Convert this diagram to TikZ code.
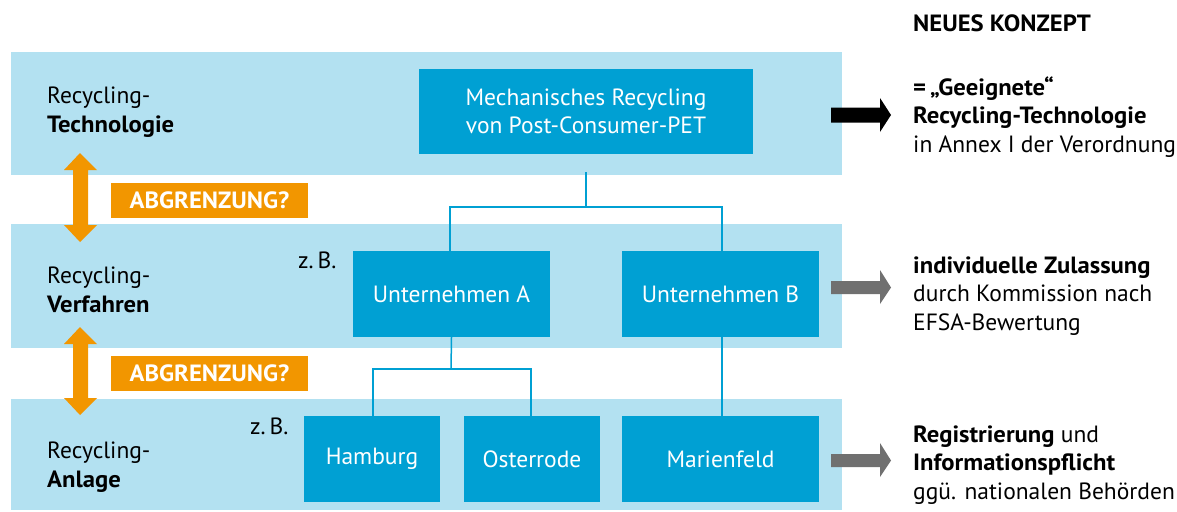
\documentclass[tikz,border=0pt]{standalone}
\usepackage{fontspec}
\setmainfont[BoldFeatures={FakeStretch=1.05}]{PT Sans}
\definecolor{bandblue}{RGB}{179,225,241}
\definecolor{boxblue}{RGB}{0,160,211}
\definecolor{orangeA}{RGB}{242,150,0}
\definecolor{grayarrow}{RGB}{112,112,112}
\tikzset{
  band/.style={fill=bandblue, draw=none},
  bluebox/.style={fill=boxblue, draw=none, text=white, inner sep=0pt, align=center, font=\fontsize{23.5}{28.5}\selectfont},
  orangebox/.style={fill=orangeA, draw=none, text=white, inner sep=0pt, font=\fontsize{23.5}{26}\selectfont\bfseries},
  lbl/.style={anchor=base west, inner sep=0pt, align=left, font=\fontsize{23.5}{28.5}\selectfont},
  conn/.style={draw=boxblue, line width=1.5pt},
}
\begin{document}
\begin{tikzpicture}[x=1pt,y=-1pt]
\useasboundingbox (0,0) rectangle (1177,511);
% bands
\fill[band] (11,52) rectangle (842,175);
\fill[band] (11,224) rectangle (842,348);
\fill[band] (11,399) rectangle (842,510);
% boxes
\node[bluebox, minimum width=334pt, minimum height=85pt] (mech) at (586,111.5) {Mechanisches Recycling\\von Post-Consumer-PET};
\node[bluebox, minimum width=197pt, minimum height=86pt] (ua) at (451.5,294) {Unternehmen A};
\node[bluebox, minimum width=197pt, minimum height=86pt] (ub) at (720.5,294) {Unternehmen B};
\node[bluebox, minimum width=136pt, minimum height=86pt] (ham) at (372,459) {Hamburg};
\node[bluebox, minimum width=136pt, minimum height=86pt] (ost) at (532,459) {Osterrode};
\node[bluebox, minimum width=197pt, minimum height=86pt] (mar) at (720.5,459) {Marienfeld};
% connectors
\coordinate (mtop) at (586,172);
\coordinate (j1) at (586,207);
\coordinate (j2) at (451,369);
\draw[conn] (mtop) -- (j1);
\draw[conn] (j1) -| (ua.north -| 450,0);
\draw[conn] (j1) -| (ub.north -| 722,0);
\draw[conn] (ua.south) -- (j2);
\draw[conn] (j2) -| (ham.north -| 373,0);
\draw[conn] (j2) -| (ost.north -| 531,0);
\draw[conn] (ub.south -| 722,0) -- (mar.north -| 722,0);
% left labels
\node[lbl] (l1) at (47,132) {Recycling-\\\textbf{Technologie}};
\node[lbl] (l2) at (47,312) {Recycling-\\\textbf{Verfahren}};
\node[lbl] (l3) at (47,487) {Recycling-\\\textbf{Anlage}};
\node[lbl] (zb1) at (298,268) {z.\,B.};
\node[lbl] (zb2) at (250,434) {z.\,B.};
% orange
\node[orangebox, minimum width=197pt, minimum height=35pt] (ab1) at (209.5,200.5) {ABGRENZUNG?};
\node[orangebox, minimum width=197pt, minimum height=35pt] (ab2) at (209.5,373.5) {ABGRENZUNG?};
\fill[orangeA] (80,153) -- (97,170) -- (88,170) -- (88,225) -- (97,225) -- (80,242) -- (64,225) -- (73,225) -- (73,170) -- (64,170) -- cycle;
\fill[orangeA] (80,327) -- (97,344) -- (88,344) -- (88,398) -- (97,398) -- (80,415) -- (64,398) -- (73,398) -- (73,344) -- (64,344) -- cycle;
% right arrows
\fill[black] (831,107.5) -- (880,107.5) -- (880,98) -- (891,115) -- (880,132) -- (880,122.5) -- (831,122.5) -- cycle;
\fill[grayarrow] (831,281) -- (880,281) -- (880,270) -- (891,287.5) -- (880,304) -- (880,294) -- (831,294) -- cycle;
\fill[grayarrow] (831,454) -- (880,454) -- (880,443) -- (891,460.5) -- (880,477) -- (880,467) -- (831,467) -- cycle;
% right texts
\node[lbl] (nk) at (913,32) {\textbf{NEUES KONZEPT}};
\node[lbl] (r1) at (913,152) {\textbf{=\,„Geeignete“}\\\textbf{Recycling-Technologie}\\in Annex I der Verordnung};
\node[lbl] (r2) at (913,330) {\textbf{individuelle Zulassung}\\durch Kommission nach\\EFSA-Bewertung};
\node[lbl] (r3) at (913,499) {\textbf{Registrierung} und\\\textbf{Informationspflicht}\\ggü. nationalen Behörden};
\end{tikzpicture}
\end{document}
